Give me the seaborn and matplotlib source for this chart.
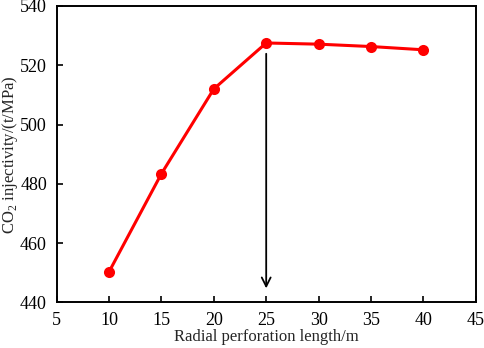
import matplotlib
matplotlib.use("Agg")
import matplotlib.pyplot as plt
import seaborn as sns

# Data
perforation_length = [10, 15, 20, 25, 30, 35, 40]
co2_injectivity = [450.3, 483.4, 512.0, 527.5, 527.1, 526.3, 525.2]
x_ticks = [5, 10, 15, 20, 25, 30, 35, 40, 45]
y_ticks = [440, 460, 480, 500, 520, 540]

sns.set_style("ticks")
plt.rcParams['font.family'] = ['Liberation Serif', 'DejaVu Serif']
plt.rcParams['mathtext.fontset'] = 'custom'
plt.rcParams['mathtext.rm'] = 'Liberation Serif'

fig, ax = plt.subplots(figsize=(4.84, 3.48), dpi=100)
fig.subplots_adjust(left=0.117, right=0.983, top=0.983, bottom=0.131)

sns.lineplot(x=perforation_length, y=co2_injectivity, ax=ax, color='#ff0000',
             linewidth=2.2, marker='o', markersize=8, markeredgewidth=0)

# Arrow pointing down at the optimal length
ax.annotate('', xy=(25, 443.8), xytext=(25, 524.8),
            arrowprops=dict(arrowstyle='->', color='black', lw=1.3,
                            mutation_scale=16))

ax.set_xlim(5, 45)
ax.set_ylim(440, 540)
ax.set_xticks(x_ticks)
ax.set_yticks(y_ticks)
ax.tick_params(direction='in', length=4, width=1.2, labelsize=13, colors='black', pad=7)
for spine in ax.spines.values():
    spine.set_visible(True)
    spine.set_linewidth(1.4)
    spine.set_color('black')

ax.set_xlabel('Radial perforation length/m', fontsize=12, labelpad=0)
ax.set_ylabel(r'CO$_2$ injectivity/(t/MPa)', fontsize=12, labelpad=0)

fig.savefig('out.png', dpi=100)
